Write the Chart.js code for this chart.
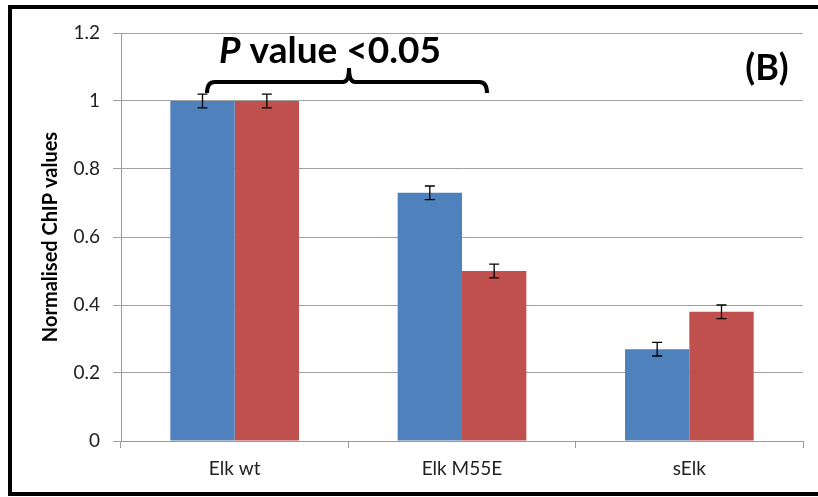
<!DOCTYPE html>
<html lang="en">
  <head>
    <meta charset="UTF-8" />
    <title>Normalised ChIP values</title>
    <script src="https://cdn.jsdelivr.net/npm/chart.js@4.4.1/dist/chart.umd.min.js"></script>
    <style>
      html, body { margin: 0; padding: 0; background: #fff; }
      #wrap { width: 818px; height: 497px; position: relative; }
    </style>
  </head>
  <body>
    <div id="wrap"><canvas id="chart" width="818" height="497"></canvas></div>
    <script>
      // values
      const categories = ["Elk wt", "Elk M55E", "sElk"];
      const blueValues = [1.0, 0.73, 0.27];
      const redValues = [1.0, 0.5, 0.38];
      const blueErrors = [0.02, 0.02, 0.02];
      const redErrors = [0.02, 0.02, 0.02];
      const yTicks = [0, 0.2, 0.4, 0.6, 0.8, 1, 1.2];
      const yTitle = "Normalised ChIP values";

      const FONT = "Lato, 'Open Sans', sans-serif";

      // error bars on top of each bar
      const errorBars = {
        id: "errorBars",
        afterDatasetsDraw(chart) {
          const ctx = chart.ctx;
          const y = chart.scales.y;
          ctx.save();
          ctx.strokeStyle = "#000";
          ctx.lineWidth = 1.3;
          chart.data.datasets.forEach((ds, i) => {
            const meta = chart.getDatasetMeta(i);
            meta.data.forEach((bar, j) => {
              const v = ds.data[j];
              const e = ds.errors[j];
              const top = y.getPixelForValue(v + e);
              const bot = y.getPixelForValue(v - e);
              ctx.beginPath();
              ctx.moveTo(bar.x, top);
              ctx.lineTo(bar.x, bot);
              ctx.moveTo(bar.x - 5, top);
              ctx.lineTo(bar.x + 5, top);
              ctx.moveTo(bar.x - 5, bot);
              ctx.lineTo(bar.x + 5, bot);
              ctx.stroke();
            });
          });
          ctx.restore();
        },
      };

      // annotation text, bracket, axis title and the frame around the figure
      const decorations = {
        id: "decorations",
        afterDraw(chart) {
          const ctx = chart.ctx;
          const area = chart.chartArea;
          ctx.save();

          // y axis title, drawn here so it keeps its natural width
          ctx.save();
          ctx.translate(51, (area.top + area.bottom) / 2);
          ctx.rotate(-Math.PI / 2);
          ctx.fillStyle = "#000";
          ctx.textAlign = "center";
          ctx.textBaseline = "middle";
          ctx.font = "bold 20px " + FONT;
          ctx.fillText(yTitle, 0, 0);
          ctx.restore();

          // bracket
          ctx.strokeStyle = "#000";
          ctx.lineWidth = 4;
          ctx.lineCap = "butt";
          ctx.beginPath();
          ctx.moveTo(207, 93);
          ctx.quadraticCurveTo(207, 82, 215, 82);
          ctx.lineTo(343, 82);
          ctx.quadraticCurveTo(349, 82, 349, 68);
          ctx.quadraticCurveTo(349, 82, 355, 82);
          ctx.lineTo(479, 82);
          ctx.quadraticCurveTo(487, 82, 487, 93);
          ctx.stroke();

          // P value text
          ctx.fillStyle = "#000";
          ctx.textBaseline = "alphabetic";
          ctx.textAlign = "left";
          const big = 37;
          ctx.font = "italic bold " + big + "px " + FONT;
          const pw = ctx.measureText("P").width;
          ctx.font = "bold " + big + "px " + FONT;
          const rest = " value <0.05";
          const rw = ctx.measureText(rest).width;
          const x0 = 330 - (pw + rw) / 2;
          ctx.font = "italic bold " + big + "px " + FONT;
          ctx.fillText("P", x0, 63);
          ctx.font = "bold " + big + "px " + FONT;
          ctx.fillText(rest, x0 + pw, 63);

          // panel label
          ctx.textAlign = "center";
          ctx.font = "bold 36px " + FONT;
          ctx.fillText("(B)", 767, 80);

          // frame (right side is cut off in the figure)
          ctx.lineWidth = 4;
          ctx.beginPath();
          ctx.moveTo(818, 7);
          ctx.lineTo(10, 7);
          ctx.lineTo(10, 494);
          ctx.lineTo(818, 494);
          ctx.stroke();
          ctx.restore();
        },
      };

      const ctx = document.getElementById("chart").getContext("2d");
      new Chart(ctx, {
        type: "bar",
        data: {
          labels: categories,
          datasets: [
            {
              label: "Series 1",
              data: blueValues,
              errors: blueErrors,
              backgroundColor: "#4F81BD",
              borderWidth: 0,
            },
            {
              label: "Series 2",
              data: redValues,
              errors: redErrors,
              backgroundColor: "#C0504D",
              borderWidth: 0,
            },
          ],
        },
        options: {
          responsive: false,
          animation: false,
          layout: { padding: { top: 33, right: 15, left: 0, bottom: 0 } },
          plugins: {
            legend: { display: false },
            tooltip: { enabled: false },
          },
          datasets: {
            bar: { categoryPercentage: 0.566, barPercentage: 1.0 },
          },
          scales: {
            x: {
              grid: {
                offset: true,
                drawOnChartArea: false,
                drawTicks: true,
                tickLength: 7,
                color: "#999",
              },
              border: { color: "#999", width: 1 },
              ticks: {
                color: "#222",
                font: { family: FONT, size: 19 },
                padding: 9,
              },
              afterFit(scale) {
                scale.height = 56;
              },
            },
            y: {
              min: 0,
              max: 1.2,
              afterBuildTicks(scale) {
                scale.ticks = yTicks.map((v) => ({ value: v }));
              },
              grid: {
                color: "#a0a0a0",
                lineWidth: 1,
                drawTicks: true,
                tickLength: 8,
              },
              border: { color: "#999", width: 1 },
              ticks: {
                color: "#222",
                font: { family: FONT, size: 19 },
                padding: 13,
                callback: (v) => String(Math.round(v * 10) / 10),
              },
              afterFit(scale) {
                scale.width = 121;
              },
            },
          },
        },
        plugins: [errorBars, decorations],
      });
    </script>
  </body>
</html>
